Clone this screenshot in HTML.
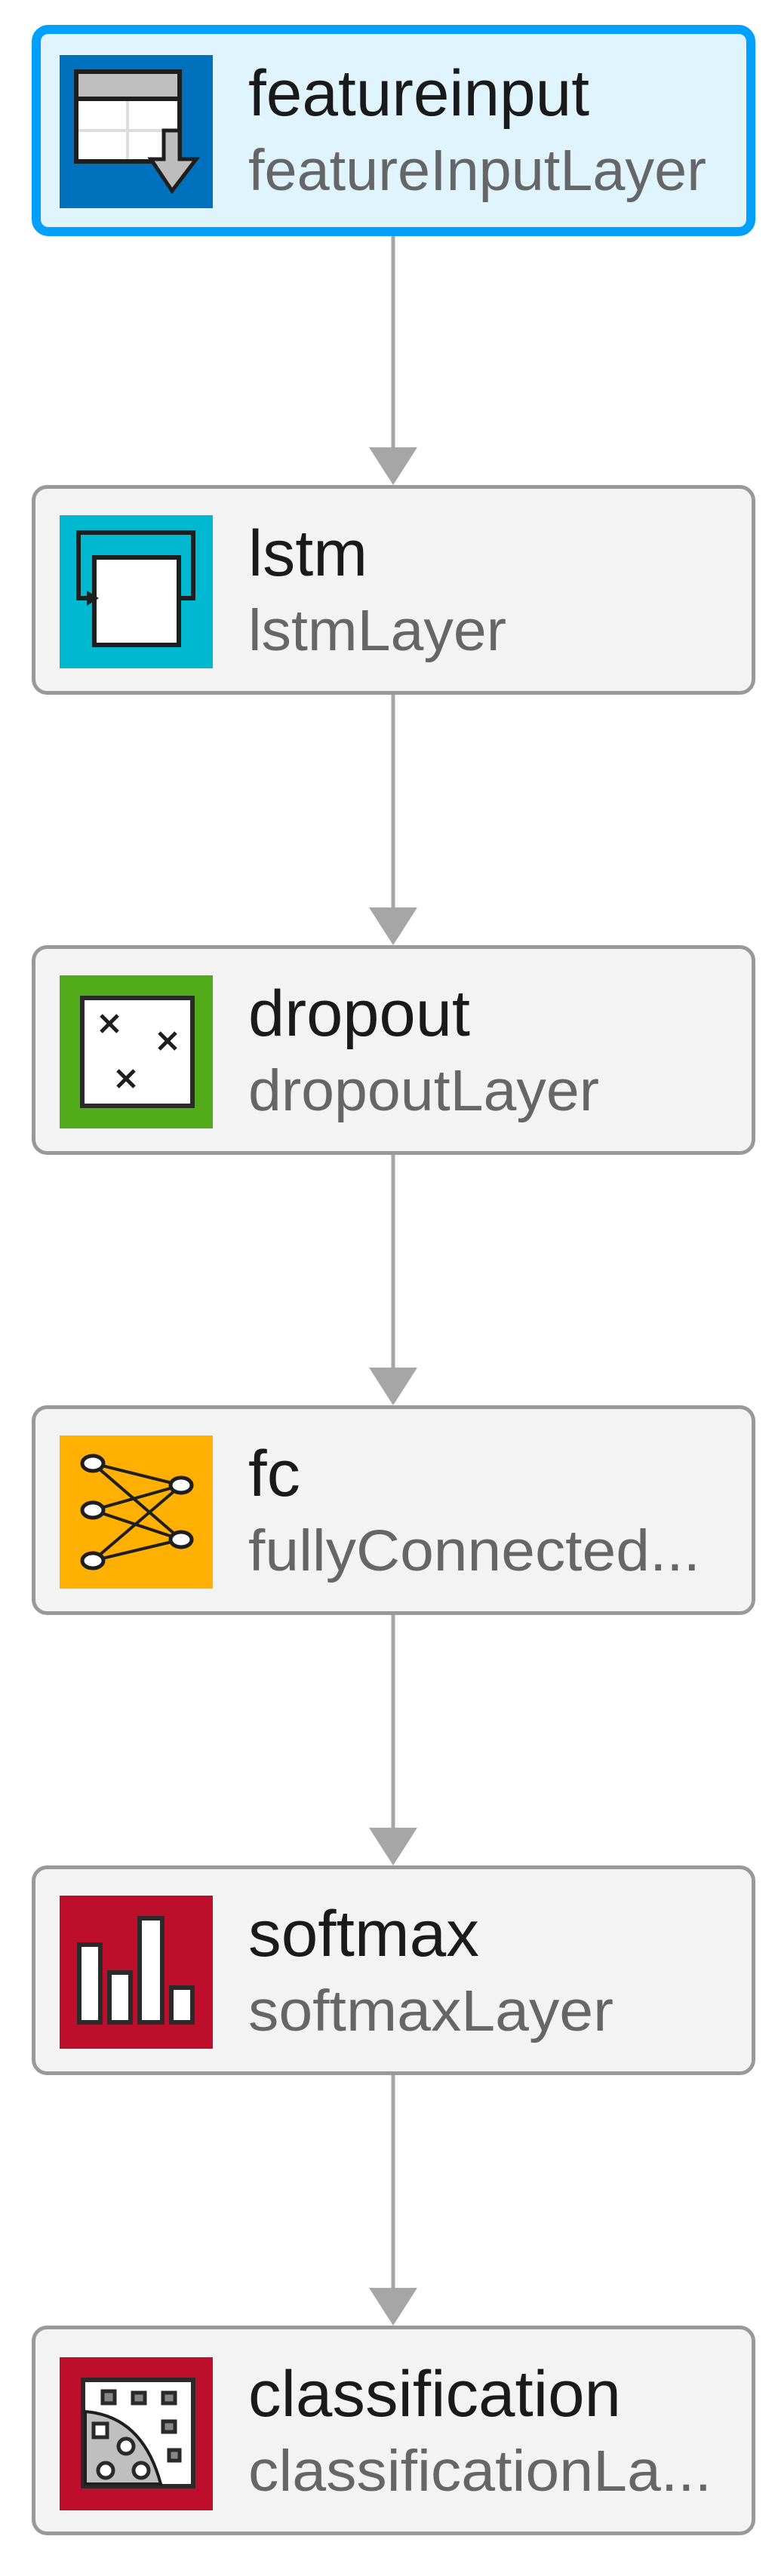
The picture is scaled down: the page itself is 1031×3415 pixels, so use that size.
<!DOCTYPE html>
<html><head><meta charset="utf-8"><style>html,body{margin:0;padding:0;background:#fff}svg{display:block}</style></head>
<body>
<svg width="1031" height="3415" viewBox="0 0 1031 3415" xmlns="http://www.w3.org/2000/svg" font-family="Liberation Sans, Arial, sans-serif">
<defs>
<g id="arr"><line x1="521" y1="0" x2="521" y2="310" stroke="#a6a6a6" stroke-width="5"/><polygon points="489,282 553,282 521,332" fill="#a6a6a6"/></g>
</defs>
<!-- connectors -->
<use href="#arr" y="311"/>
<use href="#arr" y="921"/>
<use href="#arr" y="1531"/>
<use href="#arr" y="2141"/>
<use href="#arr" y="2751"/>

<!-- node 1 -->
<rect x="48" y="39" width="947" height="268" rx="16" fill="#dff4fc" stroke="#00a0ff" stroke-width="12"/>
<g transform="translate(79,73)">
<rect width="203" height="203" fill="#0072bd"/>
<rect x="22" y="22" width="137" height="119" fill="#fff" stroke="#1e1e1e" stroke-width="6"/>
<rect x="25" y="25" width="131" height="33" fill="#bfbfbf"/>
<line x1="22" y1="58" x2="159" y2="58" stroke="#1e1e1e" stroke-width="6"/>
<line x1="90" y1="61" x2="90" y2="138" stroke="#ddd" stroke-width="4"/>
<line x1="25" y1="100" x2="156" y2="100" stroke="#ddd" stroke-width="4"/>
<polygon points="138,100 159,100 159,138 181,138 149,180 121,138 138,138" fill="#bdbdbd" stroke="#1e1e1e" stroke-width="5"/>
</g>
<text x="329" y="153" font-size="86" fill="#1a1a1a" textLength="452" lengthAdjust="spacingAndGlyphs">featureinput</text>
<text x="329" y="252" font-size="77" fill="#666" textLength="607" lengthAdjust="spacingAndGlyphs">featureInputLayer</text>

<!-- node 2 lstm -->
<rect x="44.5" y="645.5" width="954" height="273" rx="18" fill="#f3f3f3" stroke="#999" stroke-width="5"/>
<g transform="translate(79,683)">
<rect width="203" height="203" fill="#00b8d0"/>
<polyline points="46,110 25,110 25,23 177,23 177,110 158,110" fill="none" stroke="#1e1e1e" stroke-width="6"/>
<rect x="46" y="56" width="112" height="116" fill="#fff" stroke="#1e1e1e" stroke-width="6"/>
<polygon points="36,100 36,120 52,110" fill="#1e1e1e"/>
</g>
<text x="329" y="763" font-size="86" fill="#1a1a1a" textLength="158" lengthAdjust="spacingAndGlyphs">lstm</text>
<text x="329" y="862" font-size="77" fill="#666" textLength="342" lengthAdjust="spacingAndGlyphs">lstmLayer</text>

<!-- node 3 dropout -->
<rect x="44.5" y="1255.5" width="954" height="273" rx="18" fill="#f3f3f3" stroke="#999" stroke-width="5"/>
<g transform="translate(79,1293)">
<rect width="203" height="203" fill="#52ac1a"/>
<rect x="30" y="30" width="146" height="143" fill="#fff" stroke="#2a2a2a" stroke-width="6"/>
<g stroke="#1e1e1e" stroke-width="5">
<path d="M55 53 L77 75 M77 53 L55 75"/>
<path d="M132 76 L154 98 M154 76 L132 98"/>
<path d="M77 126 L99 148 M99 126 L77 148"/>
</g>
</g>
<text x="329" y="1373" font-size="86" fill="#1a1a1a" textLength="294" lengthAdjust="spacingAndGlyphs">dropout</text>
<text x="329" y="1472" font-size="77" fill="#666" textLength="465" lengthAdjust="spacingAndGlyphs">dropoutLayer</text>

<!-- node 4 fc -->
<rect x="44.5" y="1865.5" width="954" height="273" rx="18" fill="#f3f3f3" stroke="#999" stroke-width="5"/>
<g transform="translate(79,1903)">
<rect width="203" height="203" fill="#ffb000"/>
<g stroke="#1e1e1e" stroke-width="4">
<line x1="44" y1="37" x2="161" y2="66"/><line x1="44" y1="37" x2="161" y2="138"/>
<line x1="44" y1="99" x2="161" y2="66"/><line x1="44" y1="99" x2="161" y2="138"/>
<line x1="44" y1="166" x2="161" y2="66"/><line x1="44" y1="166" x2="161" y2="138"/>
</g>
<g fill="#fff" stroke="#1e1e1e" stroke-width="5">
<ellipse cx="44" cy="37" rx="14" ry="10"/><ellipse cx="44" cy="99" rx="14" ry="10"/><ellipse cx="44" cy="166" rx="14" ry="10"/>
<ellipse cx="161" cy="66" rx="14" ry="10"/><ellipse cx="161" cy="138" rx="14" ry="10"/>
</g>
</g>
<text x="329" y="1983" font-size="86" fill="#1a1a1a" textLength="69" lengthAdjust="spacingAndGlyphs">fc</text>
<text x="329" y="2082" font-size="77" fill="#666" textLength="599" lengthAdjust="spacingAndGlyphs">fullyConnected...</text>

<!-- node 5 softmax -->
<rect x="44.5" y="2475.5" width="954" height="273" rx="18" fill="#f3f3f3" stroke="#999" stroke-width="5"/>
<g transform="translate(79,2513)">
<rect width="203" height="203" fill="#bd0f2c"/>
<g fill="#fff" stroke="#2a2a2a" stroke-width="6">
<rect x="26" y="65" width="28" height="103"/>
<rect x="66" y="102" width="28" height="66"/>
<rect x="106" y="30" width="30" height="138"/>
<rect x="148" y="122" width="28" height="46"/>
</g>
</g>
<text x="329" y="2593" font-size="86" fill="#1a1a1a" textLength="306" lengthAdjust="spacingAndGlyphs">softmax</text>
<text x="329" y="2692" font-size="77" fill="#666" textLength="484" lengthAdjust="spacingAndGlyphs">softmaxLayer</text>

<!-- node 6 classification -->
<rect x="44.5" y="3085.5" width="954" height="273" rx="18" fill="#f3f3f3" stroke="#999" stroke-width="5"/>
<g transform="translate(79,3125)">
<rect width="203" height="203" fill="#bd0f2c"/>
<rect x="31" y="30" width="146" height="141" fill="#fff" stroke="#2a2a2a" stroke-width="6"/>
<path d="M34 72 Q110 78 134 168 L34 168 Z" fill="#bfbfbf" stroke="#1e1e1e" stroke-width="4"/>
<g fill="#888" stroke="#2a2a2a" stroke-width="5">
<rect x="57" y="45" width="16" height="16"/><rect x="97" y="47" width="16" height="14"/><rect x="137" y="47" width="16" height="14"/>
<rect x="137" y="85" width="16" height="14"/><rect x="145" y="123" width="14" height="14"/>
</g>
<g fill="#fff" stroke="#2a2a2a" stroke-width="5">
<rect x="45" y="88" width="18" height="18"/>
<circle cx="88" cy="118" r="10"/><circle cx="61" cy="150" r="10"/><circle cx="108" cy="150" r="10"/>
</g>
</g>
<text x="329" y="3203" font-size="86" fill="#1a1a1a" textLength="494" lengthAdjust="spacingAndGlyphs">classification</text>
<text x="329" y="3302" font-size="77" fill="#666" textLength="614" lengthAdjust="spacingAndGlyphs">classificationLa...</text>
</svg>
</body></html>
